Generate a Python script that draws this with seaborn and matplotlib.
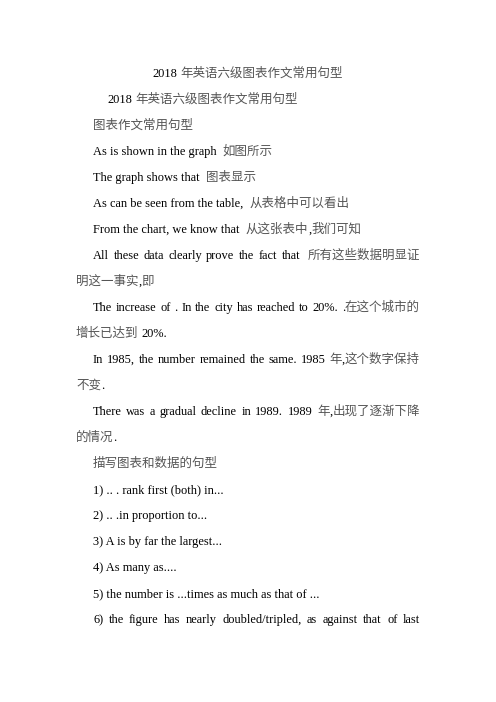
import matplotlib
matplotlib.use("Agg")
import matplotlib.pyplot as plt
import seaborn as sns

# page text, one entry per printed line
title = "2018 年英语六级图表作文常用句型"
lines = [
    "2018 年英语六级图表作文常用句型",
    "图表作文常用句型",
    "As is shown in the graph  如图所示",
    "The graph shows that  图表显示",
    "As can be seen from the table,  从表格中可以看出",
    "From the chart, we know that  从这张表中,我们可知",
    "All these data clearly prove the fact that  所有这些数据明显证",
    "明这一事实,即",
    "The increase of . In the city has reached to 20%. .在这个城市的",
    "增长已达到 20%.",
    "In 1985, the number remained the same. 1985 年,这个数字保持",
    "不变.",
    "There was a gradual decline in 1989. 1989 年,出现了逐渐下降",
    "的情况.",
    "描写图表和数据的句型",
    "1) .. . rank first (both) in...",
    "2) .. .in proportion to...",
    "3) A is by far the largest...",
    "4) As many as....",
    "5) the number is ...times as much as that of ...",
    "6) the figure has nearly doubled/tripled, as against that of last",
]
# 0 = no indent, 1 = paragraph indent, 2 = deeper indent
indent = [2, 1, 1, 1, 1, 1, 1, 0, 1, 0, 1, 0, 1, 0, 1, 1, 1, 1, 1, 1, 1]
justified = [False, False, False, False, False, False, True, False, True, False,
             True, False, True, False, False, False, False, False, False, False, True]

sns.set_theme(style="white")
plt.rcParams["font.family"] = ["Liberation Serif", "Noto Sans CJK SC", "DejaVu Sans"]

W, H = 496, 702
fig = plt.figure(figsize=(W / 100, H / 100), dpi=100)
ax = fig.add_axes([0, 0, 1, 1])
ax.set_xlim(0, W)
ax.set_ylim(H, 0)
ax.axis("off")
fig.patch.set_facecolor("white")

latin_style = dict(fontsize=8.9, color="#000000", family=["Liberation Serif", "DejaVu Sans"])
cjk_style = dict(fontsize=9.0, color="#555555", family=["Noto Sans CJK SC", "DejaVu Sans"])
left = {0: 76, 1: 93, 2: 107}
right = 420
top = 77
step = 26

renderer = fig.canvas.get_renderer()


def is_cjk(ch):
    return ord(ch) >= 0x2E80


def width(a):
    return a.get_window_extent(renderer).width


probe1 = ax.text(0, -50, "x x", **latin_style)
probe2 = ax.text(0, -50, "xx", **latin_style)
space_w = width(probe1) - width(probe2)
probe1.remove()
probe2.remove()


def tokenize(txt, split_words):
    # pieces: (string, cjk?, spaces before it)
    pieces, buf, kind, spaces, pending = [], "", None, 0, 0
    for ch in txt:
        if ch == " ":
            pending += 1
            continue
        k = is_cjk(ch)
        new_piece = buf == "" or k != kind or (pending and (split_words or k))
        if new_piece:
            if buf:
                pieces.append((buf.rstrip(), kind, spaces))
            buf, kind, spaces = ch, k, pending
        else:
            buf += " " * pending + ch
        pending = 0
    if buf:
        pieces.append((buf, kind, spaces))
    return pieces


def draw_line(txt, x0, y, x1=None, center=False):
    pieces = tokenize(txt, x1 is not None)
    arts = [ax.text(0, y, s, ha="left", va="baseline", **(cjk_style if c else latin_style))
            for s, c, _ in pieces]
    widths = [width(a) for a in arts]
    gaps = [n * space_w for _, _, n in pieces]
    gaps[0] = 0
    natural = sum(widths) + sum(gaps)
    extra = 0
    if x1 is not None:
        slots = sum(1 for g in gaps[1:] if g > 0)
        extra = (x1 - x0 - natural) / max(slots, 1)
    if center:
        x0 = x0 - natural / 2
    x = x0
    for i, (a, w) in enumerate(zip(arts, widths)):
        if i > 0:
            x += gaps[i] + (extra if gaps[i] > 0 else 0)
        a.set_x(x)
        x += w


draw_line(title, W / 2, top, center=True)

for i, (txt, lvl, just) in enumerate(zip(lines, indent, justified)):
    y = top + step * (i + 1)
    draw_line(txt, left[lvl], y, right if just else None)

fig.savefig("out.png", dpi=100, facecolor="white")
